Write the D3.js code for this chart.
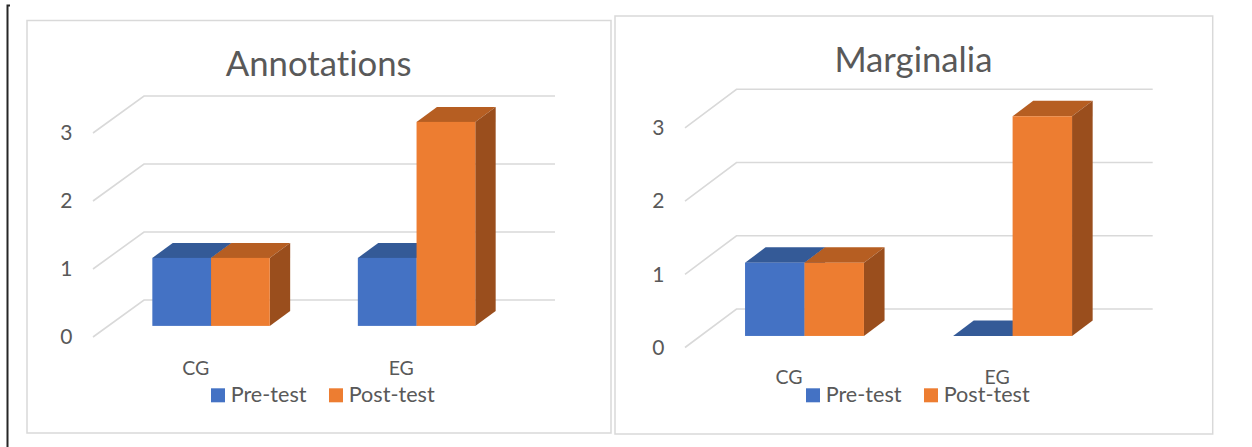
<!DOCTYPE html>
<html>
<head>
<meta charset="utf-8">
<script src="https://cdn.jsdelivr.net/npm/d3@7"></script>
<style>
  body { margin: 0; background: #fff; }
  svg { display: block; }
  text { font-variant-ligatures: none; font-feature-settings: "liga" 0, "clig" 0; }
</style>
</head>
<body>
<svg id="chart" width="1252" height="447"></svg>
<script>
// ---- data ----
const categories = ["CG", "EG"];
const seriesNames = ["Pre-test", "Post-test"];
const chartTitles = ["Annotations", "Marginalia"];
const annotationsPre = [1, 1];
const annotationsPost = [1, 3];
const marginaliaPre = [1, 0];
const marginaliaPost = [1, 3];
const yTicks = [0, 1, 2, 3];

// ---- styling ----
const FONT = "Lato, 'Open Sans', sans-serif";
const TEXT_COLOR = "#595959";
const GRID_COLOR = "#d9d9d9";
const seriesColors = [
  { front: "#4472C4", top: "#345A97", side: "#2E4F88" },
  { front: "#ED7D31", top: "#B65E22", side: "#9A4E1D" }
];

// ---- panel layout ----
const panels = [
  {
    title: chartTitles[0], values: [annotationsPre, annotationsPost],
    box: { x0: 27, y0: 20.5, x1: 611, y1: 433 },
    back: { x0: 144, x1: 555, y0: 300, yTop: 96 },
    depth: [-51, 37],
    titleX: 318.7, titleY: 75.7,
    catY: 375, legendX: 211, legendY: 402.3
  },
  {
    title: chartTitles[1], values: [marginaliaPre, marginaliaPost],
    box: { x0: 615, y0: 16, x1: 1212.7, y1: 434 },
    back: { x0: 736.5, x1: 1152.7, y0: 309, yTop: 89.3 },
    depth: [-51.5, 38.5],
    titleX: 913.4, titleY: 71.7,
    catY: 384.3, legendX: 806, legendY: 402.3
  }
];

const svg = d3.select("#chart");

// page margin rule on the far left
svg.append("path")
  .attr("d", "M10,5.5 H7.5 V447")
  .attr("fill", "none")
  .attr("stroke", "#262626")
  .attr("stroke-width", 2);

// font-size helper: scale a text so it spans the given width
function fitSize(sample, targetWidth, base) {
  const t = svg.append("text").attr("font-family", FONT).attr("font-size", base).text(sample);
  const w = t.node().getComputedTextLength();
  t.remove();
  return base * targetWidth / w;
}
const titleSize = fitSize(chartTitles[0], 186, 30);
const legendSize = fitSize(seriesNames[1], 86, 20);
const catSize = 19.5;
const tickSize = 21;

panels.forEach(p => {
  const g = svg.append("g");
  const [dx, dy] = p.depth;

  // chart area frame
  g.append("rect")
    .attr("x", p.box.x0).attr("y", p.box.y0)
    .attr("width", p.box.x1 - p.box.x0).attr("height", p.box.y1 - p.box.y0)
    .attr("fill", "#fff").attr("stroke", GRID_COLOR).attr("stroke-width", 1.5);

  // scales on the back wall
  const y = d3.scaleLinear().domain([0, 3]).range([p.back.y0, p.back.yTop]);
  const x = d3.scaleBand().domain(categories).range([p.back.x0, p.back.x1]);
  const bw = x.bandwidth();
  const barW = bw / 3.5;
  const series = d3.scaleBand().domain(seriesNames).range([0, 2 * barW]);

  // gridlines: floor-side diagonal plus back-wall horizontal
  g.append("g").selectAll("path").data(yTicks).join("path")
    .attr("d", t => `M${p.back.x0 + dx},${y(t) + dy} L${p.back.x0},${y(t)} H${p.back.x1}`)
    .attr("fill", "none").attr("stroke", GRID_COLOR).attr("stroke-width", 1.6);

  // value axis labels at the front edge
  const yFront = d3.scaleLinear().domain([0, 3]).range([p.back.y0 + dy, p.back.yTop + dy]);
  const axis = g.append("g")
    .attr("transform", `translate(${p.back.x0 + dx},0)`)
    .call(d3.axisLeft(yFront).tickValues(yTicks).tickSize(0).tickPadding(20.5).tickFormat(d3.format("d")));
  axis.select(".domain").remove();
  axis.selectAll("text")
    .attr("font-family", FONT).attr("font-size", tickSize).attr("fill", TEXT_COLOR);

  // 3D bars: front face sits at 70% of floor depth, bar depth is 40%
  const fx = 0.7 * dx, fy = 0.7 * dy;
  const bdx = -0.4 * dx, bdy = -0.4 * dy;
  const bars = [];
  seriesNames.forEach((s, si) => {
    categories.forEach((c, ci) => {
      bars.push({ s, si, c, v: p.values[si][ci] });
    });
  });
  const barG = g.append("g").selectAll("g").data(bars).join("g");
  barG.each(function (d) {
    const left = x(d.c) + bw / 2 - barW + series(d.s) + fx;
    const right = left + barW;
    const top = y(d.v) + fy;
    const bottom = y(0) + fy;
    const col = seriesColors[d.si];
    const b = d3.select(this);
    b.append("path")
      .attr("d", `M${left},${top} L${left + bdx},${top + bdy} L${right + bdx},${top + bdy} L${right},${top} Z`)
      .attr("fill", col.top);
    b.append("path")
      .attr("d", `M${right},${top} L${right + bdx},${top + bdy} L${right + bdx},${bottom + bdy} L${right},${bottom} Z`)
      .attr("fill", col.side);
    b.append("rect")
      .attr("x", left).attr("y", top)
      .attr("width", barW).attr("height", bottom - top)
      .attr("fill", col.front);
  });

  // title
  g.append("text")
    .attr("x", p.titleX).attr("y", p.titleY)
    .attr("text-anchor", "middle")
    .attr("font-family", FONT).attr("font-size", titleSize).attr("fill", TEXT_COLOR)
    .text(p.title);

  // category labels centred on the front floor edge
  g.append("g").selectAll("text").data(categories).join("text")
    .attr("x", c => x(c) + bw / 2 + dx)
    .attr("y", p.catY)
    .attr("text-anchor", "middle")
    .attr("font-family", FONT).attr("font-size", catSize).attr("fill", TEXT_COLOR)
    .text(c => c);

  // legend
  const lg = g.append("g");
  let lx = p.legendX;
  seriesNames.forEach((s, si) => {
    lg.append("rect")
      .attr("x", lx).attr("y", p.legendY - 14)
      .attr("width", 14).attr("height", 14)
      .attr("fill", seriesColors[si].front);
    const t = lg.append("text")
      .attr("x", lx + 19.7).attr("y", p.legendY)
      .attr("font-family", FONT).attr("font-size", legendSize).attr("fill", TEXT_COLOR)
      .text(s);
    lx += 19.7 + t.node().getComputedTextLength() + 22.5;
  });
});
</script>
</body>
</html>
